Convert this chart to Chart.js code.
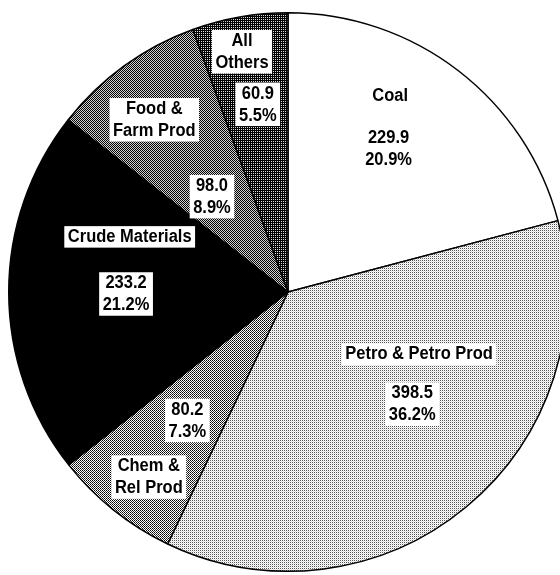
<!DOCTYPE html>
<html>
<head>
<meta charset="utf-8">
<script src="https://cdn.jsdelivr.net/npm/chart.js@4/dist/chart.umd.min.js"></script>
<style>
  html, body { margin: 0; padding: 0; background: #fff; overflow: hidden; }
  #wrap { width: 580px; height: 575px; }
</style>
</head>
<body>
<div id="wrap"><canvas id="pie" width="580" height="575"></canvas></div>
<script>
// Data
const categories = ['Coal', 'Petro & Petro Prod', 'Chem &\nRel Prod', 'Crude Materials', 'Food &\nFarm Prod', 'All\nOthers'];
const values = [229.9, 398.5, 80.2, 233.2, 98.0, 60.9];
const percents = ['20.9%', '36.2%', '7.3%', '21.2%', '8.9%', '5.5%'];

// Where each label group sits inside its slice:
// [fraction of the slice angle, fraction of the radius]
const labelSpots = [
  { name: [0.367, 0.79], vals: [0.468, 0.625] },
  { name: [0.309, 0.52], vals: [0.437, 0.60] },
  { name: [0.434, 0.83], vals: [0.476, 0.585] },
  { name: [0.752, 0.60], vals: [0.491, 0.58] },
  { name: [0.44, 0.78], vals: [0.416, 0.436] },
  { name: [0.455, 0.875], vals: [0.54, 0.68] }
];

// Small dither tiles to mimic the halftone fills
function makePattern(cells) {
  const tile = document.createElement('canvas');
  tile.width = 2;
  tile.height = 2;
  const tctx = tile.getContext('2d');
  cells.forEach((c, i) => {
    tctx.fillStyle = c;
    tctx.fillRect(i % 2, Math.floor(i / 2), 1, 1);
  });
  return tctx.createPattern(tile, 'repeat');
}

const fills = [
  '#ffffff',
  makePattern(['#555555', '#ffffff', '#ffffff', '#dddddd']),
  makePattern(['#000000', '#ffffff', '#ffffff', '#333333']),
  '#000000',
  makePattern(['#000000', '#d0d0d0', '#d0d0d0', '#000000']),
  makePattern(['#000000', '#000000', '#000000', '#dddddd'])
];

const FONT = 'bold 16.5px "Liberation Sans", Arial, Helvetica, sans-serif';
const LINE = 22;
const STRETCH = 1.1; // the scanned lettering is a bit taller than Arial

function drawGroup(ctx, lines, cx, cy) {
  ctx.font = FONT;
  const w = Math.max(...lines.map(l => ctx.measureText(l).width));
  const top = cy - (lines.length - 1) * LINE / 2;
  ctx.fillStyle = '#fff';
  ctx.fillRect(cx - w / 2 - 3.5, top - 11, w + 7, (lines.length - 1) * LINE + 21.5);
  ctx.fillStyle = '#000';
  lines.forEach((l, i) => {
    ctx.save();
    ctx.translate(cx, top + i * LINE);
    ctx.scale(1, STRETCH);
    ctx.fillText(l, 0, 0);
    ctx.restore();
  });
}

const sliceLabels = {
  id: 'sliceLabels',
  afterDatasetsDraw(chart) {
    const ctx = chart.ctx;
    const arcs = chart.getDatasetMeta(0).data;
    ctx.save();
    ctx.textAlign = 'center';
    ctx.textBaseline = 'middle';
    arcs.forEach((arc, i) => {
      const p = arc.getProps(['x', 'y', 'startAngle', 'endAngle', 'outerRadius'], true);
      const at = (spot) => {
        const a = p.startAngle + spot[0] * (p.endAngle - p.startAngle);
        const r = spot[1] * p.outerRadius;
        return [p.x + Math.cos(a) * r, p.y + Math.sin(a) * r];
      };
      const n = at(labelSpots[i].name);
      const v = at(labelSpots[i].vals);
      drawGroup(ctx, categories[i].split('\n'), n[0], n[1]);
      drawGroup(ctx, [values[i].toFixed(1), percents[i]], v[0], v[1]);
    });
    ctx.restore();
  }
};

new Chart(document.getElementById('pie').getContext('2d'), {
  type: 'pie',
  data: {
    labels: categories,
    datasets: [{
      data: values,
      backgroundColor: fills,
      borderColor: '#000',
      borderWidth: 1.5
    }]
  },
  options: {
    responsive: false,
    devicePixelRatio: 1,
    animation: false,
    layout: { padding: { left: 8, top: 12, right: 12, bottom: 3 } },
    plugins: {
      legend: { display: false },
      tooltip: { enabled: false }
    }
  },
  plugins: [sliceLabels]
});
</script>
</body>
</html>
